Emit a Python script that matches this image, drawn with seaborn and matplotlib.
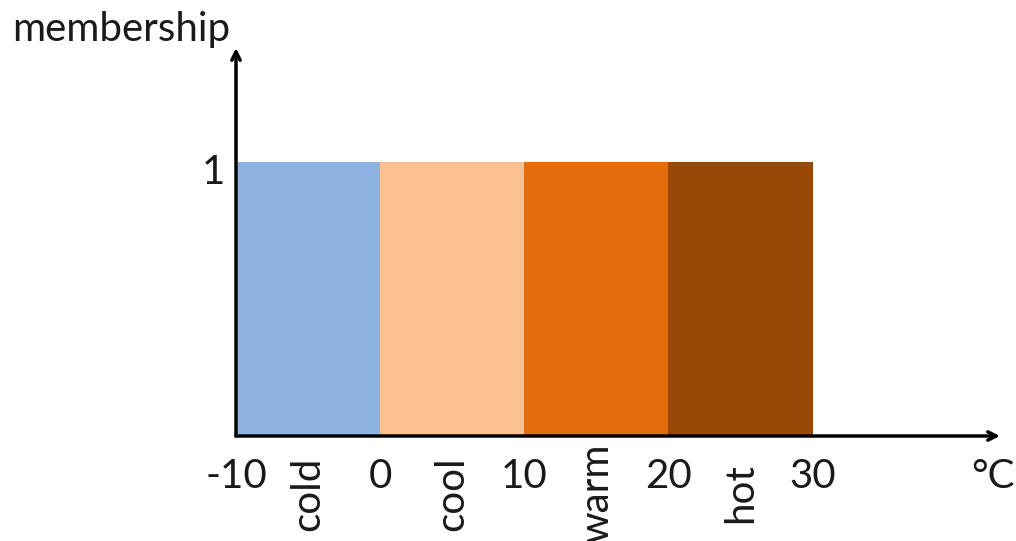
import numpy as np
import pandas as pd
import matplotlib
matplotlib.use('Agg')
import matplotlib.pyplot as plt
import seaborn as sns

# crisp temperature sets
labels = ['cold', 'cool', 'warm', 'hot']
lower = [-10, 0, 10, 20]
upper = [0, 10, 20, 30]
membership = [1, 1, 1, 1]
colors = ['#8EB4E3', '#FAC090', '#E46C0A', '#984807']
xtick_vals = [-10, 0, 10, 20, 30]

sns.set_style('white')
plt.rcParams['font.family'] = ['Lato', 'DejaVu Sans']
FS = 29
TXT = '#1a1a1a'

df = pd.DataFrame({
    'center': [(a + b) / 2 for a, b in zip(lower, upper)],
    'membership': membership,
    'set': labels,
})

fig = plt.figure(figsize=(10.16, 5.41), dpi=100)
ax = fig.add_axes([236 / 1016, 105 / 541, 764 / 1016, 388 / 541])

sns.barplot(data=df, x='center', y='membership', hue='set', palette=colors,
            native_scale=True, width=1, dodge=False, saturation=1,
            legend=False, linewidth=0, ax=ax)

ax.set_xlim(-10, 43)
ax.set_ylim(0, 1.416)
for s in ax.spines.values():
    s.set_visible(False)
ax.set_xlabel('')
ax.set_ylabel('')
ax.set_yticks([])
ax.set_xticks(xtick_vals)
ax.set_xticklabels([str(v) for v in xtick_vals], fontsize=FS, color=TXT)
ax.tick_params(axis='x', length=0, pad=16)

# axis arrows
arrow = dict(arrowstyle='->,head_length=0.6,head_width=0.3', lw=2.5, color='black',
             shrinkA=0, shrinkB=0)
ax.annotate('', xy=(1, 0), xytext=(0, 0), xycoords='axes fraction',
            textcoords='axes fraction', arrowprops=arrow, annotation_clip=False)
ax.annotate('', xy=(0, 1), xytext=(0, 0), xycoords='axes fraction',
            textcoords='axes fraction', arrowprops=arrow, annotation_clip=False)

# set names under the bars, rotated
for c, lab in zip(df['center'], labels):
    ax.text(c, -0.21, lab, rotation=90, ha='center', va='center',
            fontsize=FS, color=TXT, clip_on=False)

ax.text(-10.75, 0.963, '1', ha='right', va='center', fontsize=FS,
        color=TXT, clip_on=False)

fig.text(12 / 1016, 1 - 30 / 541, 'membership', ha='left', va='center',
         fontsize=FS, color=TXT)
fig.text(993 / 1016, 1 - 476 / 541, '°C', ha='center', va='center',
         fontsize=FS, color=TXT)

fig.savefig('out.png', dpi=100)
